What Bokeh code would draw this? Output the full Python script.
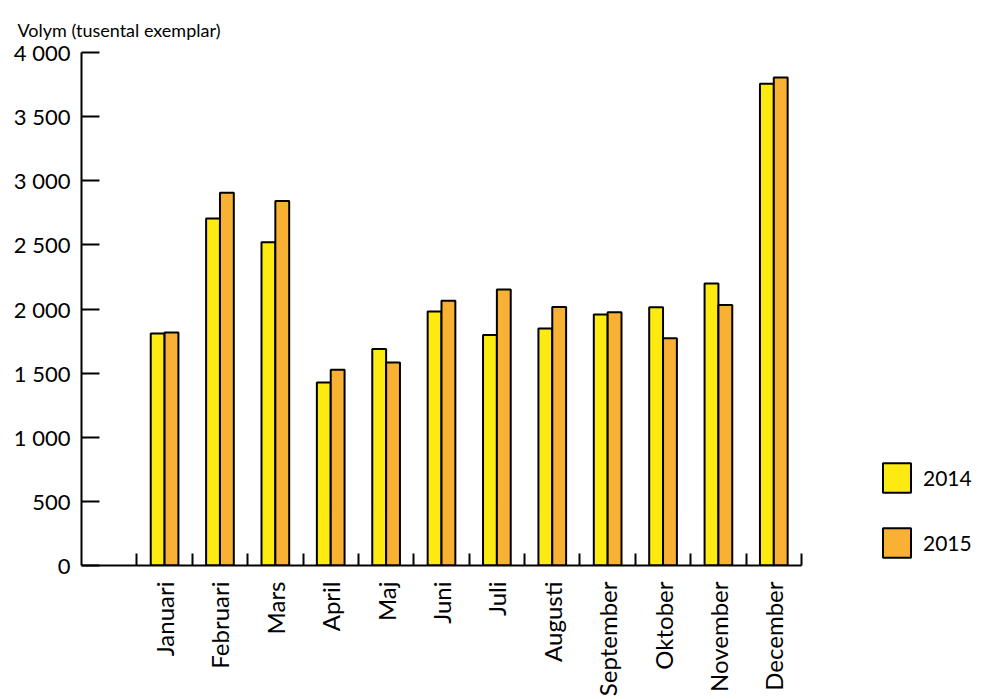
import math
from bokeh.plotting import figure
from bokeh.models import Range1d, FixedTicker, Legend, LegendItem, ColumnDataSource
from bokeh.embed import file_html
from bokeh.resources import INLINE

months = ["Januari", "Februari", "Mars", "April", "Maj", "Juni", "Juli",
          "Augusti", "September", "Oktober", "November", "December"]
vol_2014 = [1808, 2705, 2521, 1427, 1689, 1981, 1798, 1847, 1958, 2013, 2199, 3757]
vol_2015 = [1816, 2907, 2842, 1526, 1582, 2065, 2153, 2016, 1974, 1772, 2031, 3806]
y_ticks = [0, 500, 1000, 1500, 2000, 2500, 3000, 3500, 4000]
y_tick_labels = ["0", "500", "1 000", "1 500", "2 000", "2 500", "3 000", "3 500", "4 000"]
series_names = ["2014", "2015"]
title_text = "Volym (tusental exemplar)"

FONT = "Lato"
YELLOW = "#FCEA10"
ORANGE = "#F8B133"

n = len(months)
centers = [i + 1.5 for i in range(n)]          # slot 0 is empty
bounds = [i + 1 for i in range(n + 1)]
bw = 0.25
AXIS_W = 720      # px width of the category axis
FRAME_W = 900     # frame also holds the legend on the right

src = ColumnDataSource(dict(
    x14=[c - bw / 2 for c in centers],
    x15=[c + bw / 2 for c in centers],
    v14=vol_2014, v15=vol_2015,
))

p = figure(width=981, height=699, output_backend="svg", toolbar_location=None,
           x_range=Range1d(0, (n + 1) * FRAME_W / AXIS_W), y_range=Range1d(0, 4000),
           min_border_left=81, min_border_top=52, min_border_right=0,
           min_border_bottom=132, title=title_text)
p.outline_line_color = None
p.grid.visible = False
p.background_fill_color = "white"

r14 = p.vbar(x="x14", top="v14", width=bw, source=src, fill_color=YELLOW,
             line_color="black", line_width=2)
r15 = p.vbar(x="x15", top="v15", width=bw, source=src, fill_color=ORANGE,
             line_color="black", line_width=2)

# title
p.title.text_font = FONT
p.title.text_font_size = "18px"
p.title.text_font_style = "normal"
p.title.text_color = "black"
p.title.align = "left"
p.title.vertical_align = "top"
p.title.offset = -64
p.title.standoff = 20

# y axis
ya = p.yaxis[0]
ya.ticker = FixedTicker(ticks=y_ticks, minor_ticks=[])
ya.major_label_overrides = {float(t): l for t, l in zip(y_ticks, y_tick_labels)}
ya.major_tick_in = 18
ya.major_tick_out = 0
ya.minor_tick_in = 0
ya.minor_tick_out = 0
ya.major_tick_line_width = 2
ya.axis_line_width = 2
ya.axis_line_color = "black"
ya.major_tick_line_color = "black"
ya.major_label_text_font = FONT
ya.major_label_text_font_size = "22px"
ya.major_label_text_color = "black"
ya.major_label_standoff = 11

# x axis
xa = p.xaxis[0]
xa.bounds = (0, n + 1)
xa.ticker = FixedTicker(ticks=centers, minor_ticks=bounds)
xa.major_label_overrides = {float(c): m for c, m in zip(centers, months)}
xa.major_tick_line_color = None
xa.major_tick_in = 0
xa.major_tick_out = 0
xa.minor_tick_in = 12
xa.minor_tick_out = 0
xa.minor_tick_line_width = 2
xa.minor_tick_line_color = "black"
xa.axis_line_width = 2
xa.axis_line_color = "black"
xa.major_label_orientation = math.pi / 2
xa.major_label_text_font = FONT
xa.major_label_text_font_size = "24px"
xa.major_label_text_color = "black"
xa.major_label_standoff = 16

legend = Legend(items=[LegendItem(label=series_names[0], renderers=[r14]),
                       LegendItem(label=series_names[1], renderers=[r15])],
                location=(798, 4), glyph_width=35, glyph_height=37,
                spacing=28, label_standoff=9, padding=0, margin=0,
                border_line_color=None, background_fill_alpha=0,
                label_text_font=FONT, label_text_font_size="21px",
                label_text_color="black")
p.add_layout(legend, "center")

open("out.html", "w").write(file_html(p, INLINE))
